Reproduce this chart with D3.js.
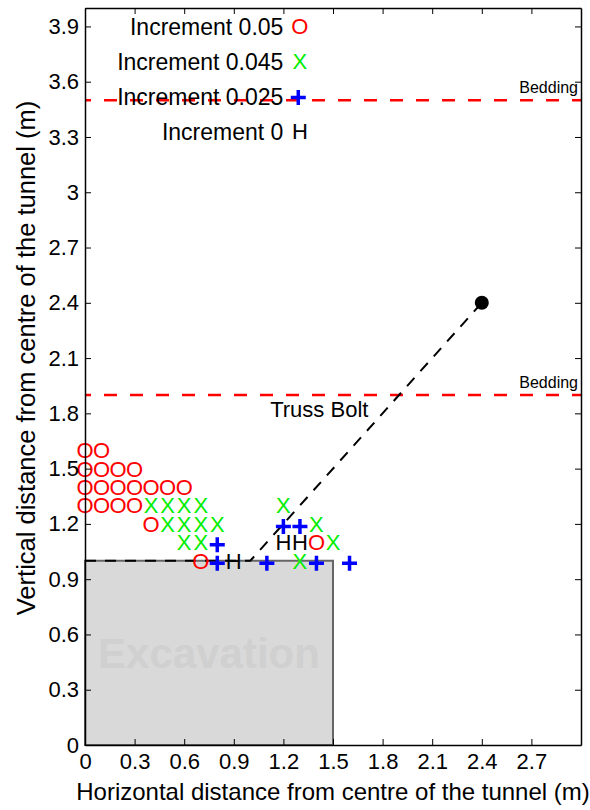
<!DOCTYPE html>
<html>
<head>
<meta charset="utf-8">
<script src="https://cdn.jsdelivr.net/npm/d3@7/dist/d3.min.js"></script>
<style>
  html, body { margin: 0; padding: 0; background: #fff; }
  svg { display: block; font-family: "Liberation Sans", Arial, Helvetica, sans-serif; }
</style>
</head>
<body>
<svg id="chart" width="590" height="810"></svg>
<script>
// Failure points around the excavation for each displacement increment
const inc005 = [
  [0, 1.6], [0.1, 1.6],
  [0, 1.5], [0.1, 1.5], [0.2, 1.5], [0.3, 1.5],
  [0, 1.4], [0.1, 1.4], [0.2, 1.4], [0.3, 1.4], [0.4, 1.4], [0.5, 1.4], [0.6, 1.4],
  [0, 1.3], [0.1, 1.3], [0.2, 1.3], [0.3, 1.3],
  [0.4, 1.2],
  [0.7, 1.0],
  [1.4, 1.1]
];
const inc0045 = [
  [0.4, 1.3], [0.5, 1.3], [0.6, 1.3], [0.7, 1.3],
  [0.5, 1.2], [0.6, 1.2], [0.7, 1.2], [0.8, 1.2],
  [0.6, 1.1], [0.7, 1.1],
  [1.2, 1.3], [1.4, 1.2], [1.5, 1.1], [1.3, 1.0]
];
const inc0025 = [
  [0.8, 1.1], [0.8, 1.0],
  [1.2, 1.2], [1.3, 1.2],
  [1.1, 1.0], [1.4, 1.0], [1.6, 1.0]
];
const inc0 = [
  [0.9, 1.0], [1.2, 1.1], [1.3, 1.1]
];

// Truss bolt path: along the roof, then up to the anchor
const trussBolt = [[0, 1.0], [1.0, 1.0], [2.4, 2.4]];
const anchor = [2.4, 2.4];
// Excavation extent (half width, height)
const excavation = { x0: 0, x1: 1.5, y0: 0, y1: 1.0 };
// Bedding planes
const beddings = [3.5, 1.9];

const xTicks = [0, 0.3, 0.6, 0.9, 1.2, 1.5, 1.8, 2.1, 2.4, 2.7];
const yTicks = [0, 0.3, 0.6, 0.9, 1.2, 1.5, 1.8, 2.1, 2.4, 2.7, 3, 3.3, 3.6, 3.9];

const legendItems = [
  { label: "Increment 0.05", glyph: "O", color: "#ff0000", y: 3.9 },
  { label: "Increment 0.045", glyph: "X", color: "#00ee00", y: 3.71 },
  { label: "Increment 0.025", glyph: "+", color: "#0000ff", y: 3.52 },
  { label: "Increment 0", glyph: "H", color: "#000000", y: 3.33 }
];

const margin = { left: 85, right: 9, top: 8, bottom: 65 };
const W = 590, H = 810;

const x = d3.scaleLinear().domain([0, 3]).range([margin.left, W - margin.right]);
const y = d3.scaleLinear().domain([0, 4]).range([H - margin.bottom, margin.top]);

const svg = d3.select("#chart");

// Excavation block
svg.append("rect")
  .attr("x", x(excavation.x0))
  .attr("y", y(excavation.y1))
  .attr("width", x(excavation.x1) - x(excavation.x0))
  .attr("height", y(excavation.y0) - y(excavation.y1))
  .attr("fill", "#d9d9d9")
  .attr("stroke", "#666")
  .attr("stroke-width", 2);

svg.append("text")
  .attr("x", x((excavation.x0 + excavation.x1) / 2))
  .attr("y", y(0.5))
  .attr("dy", "0.36em")
  .attr("text-anchor", "middle")
  .attr("font-size", 42)
  .attr("font-weight", "bold")
  .attr("fill", "#d0d0d0")
  .text("Excavation");

// Bedding planes
beddings.forEach(b => {
  svg.append("line")
    .attr("x1", x(0)).attr("x2", x(3))
    .attr("y1", y(b)).attr("y2", y(b))
    .attr("stroke", "#ff0000")
    .attr("stroke-width", 2.5)
    .attr("stroke-dasharray", "13,13")
    .attr("stroke-dashoffset", 7);
  svg.append("text")
    .attr("x", x(3) - 3)
    .attr("y", y(b) - 7)
    .attr("text-anchor", "end")
    .attr("font-size", 16)
    .text("Bedding");
});

// Truss bolt
svg.append("path")
  .datum(trussBolt)
  .attr("d", d3.line().x(d => x(d[0])).y(d => y(d[1])))
  .attr("fill", "none")
  .attr("stroke", "#000")
  .attr("stroke-width", 2)
  .attr("stroke-dasharray", "11,9");

svg.append("circle")
  .attr("cx", x(anchor[0]))
  .attr("cy", y(anchor[1]))
  .attr("r", 7)
  .attr("fill", "#000");

svg.append("text")
  .attr("x", x(1.12))
  .attr("y", y(1.78))
  .attr("font-size", 22)
  .text("Truss Bolt");

// Glyph markers
const glyphSize = 22;
function glyphs(data, ch, color) {
  svg.append("g").selectAll("text")
    .data(data)
    .join("text")
    .attr("x", d => x(d[0]))
    .attr("y", d => y(d[1]))
    .attr("dy", "0.36em")
    .attr("text-anchor", "middle")
    .attr("font-size", glyphSize)
    .attr("fill", color)
    .text(ch);
}
const plusPath = "M-7.5,0H7.5M0,-7.5V7.5";
function pluses(data, color) {
  svg.append("g").selectAll("path")
    .data(data)
    .join("path")
    .attr("transform", d => `translate(${x(d[0])},${y(d[1]) + 2.5})`)
    .attr("d", plusPath)
    .attr("stroke", color)
    .attr("stroke-width", 3.5)
    .attr("fill", "none");
}

glyphs(inc005, "O", "#ff0000");
glyphs(inc0045, "X", "#00ee00");
pluses(inc0025, "#0000ff");
glyphs(inc0, "H", "#000000");

// Legend
const legend = svg.append("g");
legendItems.forEach(it => {
  legend.append("text")
    .attr("x", x(1.2))
    .attr("y", y(it.y))
    .attr("dy", "0.36em")
    .attr("text-anchor", "end")
    .attr("font-size", 23)
    .attr("fill", "#000")
    .text(it.label);
  if (it.glyph === "+") {
    legend.append("path")
      .attr("transform", `translate(${x(1.29)},${y(it.y) + 1})`)
      .attr("d", plusPath)
      .attr("stroke", it.color)
      .attr("stroke-width", 3.5)
      .attr("fill", "none");
  } else {
    legend.append("text")
      .attr("x", x(1.3))
      .attr("y", y(it.y))
      .attr("dy", "0.36em")
      .attr("text-anchor", "middle")
      .attr("font-size", glyphSize)
      .attr("fill", it.color)
      .text(it.glyph);
  }
});

// Axes: box with inward ticks on all four sides
const tickLen = 6;
const fmt = d => String(d);

const gx = svg.append("g")
  .attr("transform", `translate(0,${y(0)})`)
  .call(d3.axisBottom(x).tickValues(xTicks).tickSizeInner(-tickLen).tickSizeOuter(0).tickPadding(8).tickFormat(fmt));
const gy = svg.append("g")
  .attr("transform", `translate(${x(0)},0)`)
  .call(d3.axisLeft(y).tickValues(yTicks).tickSizeInner(-tickLen).tickSizeOuter(0).tickPadding(6).tickFormat(fmt));
const gxt = svg.append("g")
  .attr("transform", `translate(0,${y(4)})`)
  .call(d3.axisTop(x).tickValues(xTicks).tickSizeInner(-tickLen).tickSizeOuter(0).tickFormat(""));
const gyr = svg.append("g")
  .attr("transform", `translate(${x(3)},0)`)
  .call(d3.axisRight(y).tickValues(yTicks).tickSizeInner(-tickLen).tickSizeOuter(0).tickFormat(""));

[gx, gy, gxt, gyr].forEach(g => {
  g.select(".domain").attr("stroke", "#000").attr("stroke-width", 1.5);
  g.selectAll(".tick line").attr("stroke", "#000").attr("stroke-width", 1);
  g.selectAll(".tick text")
    .attr("font-size", 22)
    .attr("font-family", "\"Liberation Sans\", Arial, Helvetica, sans-serif")
    .attr("fill", "#000");
});

// Axis titles
svg.append("text")
  .attr("x", (x(0) + x(3)) / 2)
  .attr("y", 800)
  .attr("text-anchor", "middle")
  .attr("font-size", 24)
  .text("Horizontal distance from centre of the tunnel (m)");

svg.append("text")
  .attr("transform", `translate(35,358) rotate(-90)`)
  .attr("text-anchor", "middle")
  .attr("font-size", 25.5)
  .text("Vertical distance from centre of the tunnel (m)");
</script>
</body>
</html>
